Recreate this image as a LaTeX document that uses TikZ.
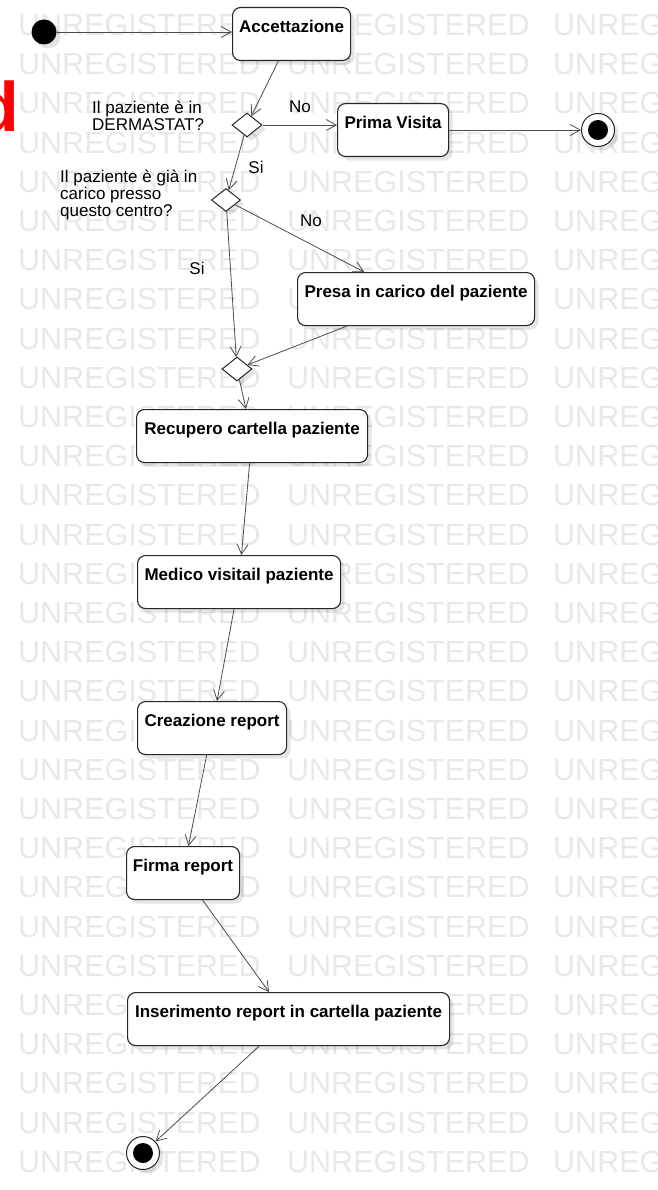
\documentclass[tikz,border=0pt]{standalone}
\usepackage{fontspec}
\setmainfont{Liberation Sans}
\usetikzlibrary{arrows.meta,shapes.geometric,shadows}

\begin{document}
\begin{tikzpicture}[x=1pt,y=-1pt,
  wm/.style={anchor=west, inner sep=0pt, text=black!9, font=\fontsize{30.5}{30.5}\selectfont},
  soft/.style={drop shadow={shadow xshift=4pt, shadow yshift=-4pt, fill=black, opacity=0.1}},
  act/.style={draw=black!85, line width=1.1pt, rounded corners=8pt, fill=white, soft,
    anchor=north west, inner xsep=0pt, inner ysep=0pt,
    text height=24.5pt, text depth=28.5pt, font=\bfseries\fontsize{17}{17}\selectfont},
  dec/.style={diamond, draw=black!85, line width=1pt, fill=white, soft, inner sep=0pt,
    minimum width=30pt, minimum height=24pt},
  initial/.style={circle, fill=black, inner sep=0pt, minimum size=25pt, soft},
  final/.style={circle, draw=black!85, line width=1pt, fill=white, inner sep=0pt,
    minimum size=33pt, soft,
    path picture={\fill[black] (path picture bounding box.center) circle[radius=10pt];}},
  flow/.style={draw=black!70, line width=0.8pt, -{Straight Barb[length=10pt,width=11pt]}},
  lbl/.style={inner sep=0pt, font=\fontsize{17}{14}\selectfont, align=left},
]
\useasboundingbox (0,0) rectangle (657,1190);
\fill[white] (0,0) rectangle (657,1190);

% watermark rows
\foreach \k in {0,...,29} {
  \pgfmathsetmacro\yy{25+39.2*\k}
  \foreach \xx in {18,287,553}
    \node[wm] (wm-\k-\xx) at (\xx,\yy) {UNREGISTERED};
}

% clipped heading letter on the left edge
\node[anchor=base east, inner sep=0pt, text=red, font=\bfseries\fontsize{70}{70}\selectfont] (cut) at (19,131.5) {d};

% start / end states
\node[initial] (start) at (44,32) {};
\node[final] (end1) at (598,130) {};
\node[final] (end2) at (143,1153) {};

% actions
\node[act, minimum width=118pt] (acc) at (232,7) {Accettazione};
\node[act, minimum width=111pt] (prima) at (337,103) {Prima Visita};
\node[act, minimum width=237pt] (presa) at (297,272) {Presa in carico del paziente};
\node[act, minimum width=231pt] (recup) at (136,409) {Recupero cartella paziente};
\node[act, minimum width=203pt] (medico) at (137,555) {Medico visitail paziente};
\node[act, minimum width=149pt] (creaz) at (137,701) {Creazione report};
\node[act, minimum width=113pt] (firma) at (126,846) {Firma report};
\node[act, minimum width=322pt] (inser) at (127,992) {Inserimento report in cartella paziente};

% decisions and merge
\node[dec] (d1) at (247,125) {};
\node[dec, minimum width=29pt, minimum height=23pt] (d2) at (226,200) {};
\node[dec] (d3) at (237,369) {};

% questions and guards
\node[lbl, anchor=west] (q1) at (92,116) {Il paziente è in\\DERMASTAT?};
\node[lbl, anchor=west] (q2) at (60,195) {Il paziente è già in\\carico presso\\questo centro?};
\node[lbl] (g1) at (300,107) {No};
\node[lbl] (g2) at (256,167) {Si};
\node[lbl] (g3) at (311,221) {No};
\node[lbl] (g4) at (197,268) {Si};

% control flow
\draw[flow] (start) -- (acc.west |- start);
\draw[flow] (acc) -- (d1);
\draw[flow] (d1.east) -- (d1.east -| prima.west);
\draw[flow] (prima.east |- end1) -- (end1);
\draw[flow] (d1) -- (d2);
\draw[flow] (d2) -- (presa);
\draw[flow] (d2) -- (d3);
\draw[flow] (presa) -- (d3);
\draw[flow] (d3) -- (recup);
\draw[flow] (recup) -- (medico);
\draw[flow] (medico) -- (creaz);
\draw[flow] (creaz) -- (firma);
\draw[flow] (firma) -- (inser);
\draw[flow] (inser) -- (end2);
\end{tikzpicture}
\end{document}
